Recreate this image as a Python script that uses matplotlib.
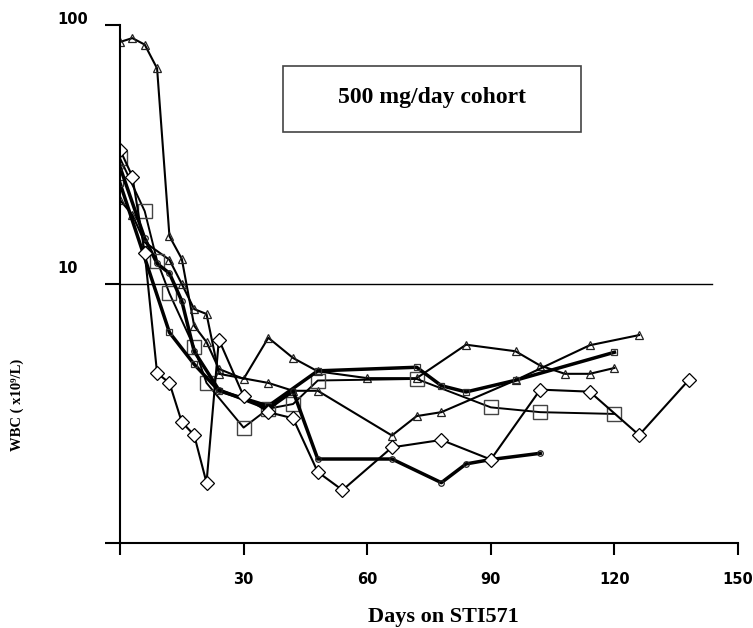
import matplotlib.pyplot as plt
import matplotlib.transforms as mtransforms
from matplotlib.patches import Rectangle

# valeurs (jours, WBC x10^9/L)
jours_tri1 = [0, 3, 6, 9, 12, 15, 18, 21, 24, 30, 36, 42, 48, 60, 72, 84, 96, 102, 108, 114, 120]
wbc_tri1 = [86, 89, 84, 68, 15.3, 12.5, 6.9, 5.97, 4.7, 4.3, 6.2, 5.18, 4.6, 4.33, 4.33, 5.83, 5.5, 4.84, 4.5, 4.5, 4.74]

jours_tri2 = [0, 3, 6, 12, 15, 18, 21, 24, 36, 42, 48, 66, 72, 78, 96, 114, 126]
wbc_tri2 = [21.1, 18.5, 14.5, 12.4, 10, 8, 7.66, 4.5, 4.15, 3.87, 3.87, 2.6, 3.09, 3.2, 4.25, 5.8, 6.35]

jours_carre = [0, 12, 18, 24, 36, 48, 72, 78, 84, 96, 120]
wbc_carre = [24.5, 6.5, 4.9, 3.87, 3.38, 4.62, 4.77, 4.05, 3.83, 4.25, 5.45]

jours_gcarre = [0, 6, 9, 12, 18, 21, 30, 36, 42, 48, 72, 90, 102, 120]
wbc_gcarre = [30.6, 19.1, 12.3, 9.2, 5.7, 4.15, 2.79, 3.3, 3.44, 4.24, 4.3, 3.34, 3.2, 3.15]

jours_rond = [0, 6, 9, 12, 15, 18, 24, 36, 42, 48, 66, 78, 84, 90, 102]
wbc_rond = [28.3, 15, 12, 11, 8.6, 5.5, 3.9, 3.3, 3.86, 2.11, 2.11, 1.71, 2.02, 2.1, 2.22]

jours_losange = [0, 3, 6, 9, 12, 15, 18, 21, 24, 30, 36, 42, 48, 54, 66, 78, 90, 102, 114, 126, 138]
wbc_losange = [33, 26, 13.2, 4.53, 4.15, 2.93, 2.61, 1.71, 6.1, 3.69, 3.2, 3.03, 1.88, 1.6, 2.34, 2.5, 2.1, 3.91, 3.84, 2.61, 4.25]

ticks_x = [0, 30, 60, 90, 120, 150]
labels_x = ['', '30', '60', '90', '120', '150']
ticks_y = [1, 10, 100]
labels_y = ['', '10', '100']

fig = plt.figure(figsize=(7.53, 6.28), dpi=100)
ax = fig.add_axes([120 / 753, 1 - 543 / 628, 618 / 753, 518 / 628])
ax.set_yscale('log')
ax.set_xlim(0, 150)
ax.set_ylim(1, 100)

# ligne de reference a 10
ax.axhline(10, xmin=0, xmax=592 / 618, color='black', lw=1.0, zorder=1)

# courbes
ax.plot(jours_tri1, wbc_tri1, color='black', lw=1.5, marker='^', ms=6,
        mfc='none', mec='#222222', mew=0.9)
ax.plot(jours_tri2, wbc_tri2, color='black', lw=1.5, marker='^', ms=6,
        mfc='none', mec='#222222', mew=0.9)
ax.plot(jours_gcarre, wbc_gcarre, color='black', lw=1.4, marker='s', ms=10,
        mfc='none', mec='#444444', mew=1.0)
ax.plot(jours_carre, wbc_carre, color='black', lw=2.5, marker='s', ms=5,
        mfc='none', mec='#333333', mew=0.9)
ax.plot(jours_rond, wbc_rond, color='black', lw=2.5, marker='o', ms=4,
        mfc='none', mec='#222222', mew=0.9)
ax.plot(jours_losange, wbc_losange, color='black', lw=1.5, marker='D', ms=7,
        mfc='white', mec='black', mew=0.9)

# axes
for cote in ['top', 'right']:
    ax.spines[cote].set_visible(False)
ax.spines['left'].set_linewidth(1.5)
ax.spines['bottom'].set_linewidth(1.5)

ax.set_xticks(ticks_x)
ax.set_xticklabels(labels_x, fontweight='bold', fontsize=10.5, family='DejaVu Sans')
ax.tick_params(axis='x', direction='out', length=8.6, width=1.5, pad=12)
ax.set_yticks(ticks_y)
ax.set_yticklabels(labels_y, fontweight='bold', fontsize=10.5, family='DejaVu Sans')
ax.yaxis.set_minor_locator(plt.NullLocator())
ax.tick_params(axis='y', which='major', direction='out', length=10.8, width=1.5, pad=34)
decalages = {'10': 6, '100': -1.2}
for lab in ax.get_yticklabels():
    d = decalages.get(lab.get_text(), 0)
    lab.set_horizontalalignment('left')
    lab.set_verticalalignment('bottom')
    lab.set_transform(lab.get_transform() +
                      mtransforms.ScaledTranslation(0, d / 72, fig.dpi_scale_trans))

# titres
fig.text(443 / 753, 1 - 617 / 628, 'Days on STI571', ha='center', va='center',
         family='Liberation Serif', fontweight='bold', fontsize=16)
fig.text(17 / 753, 1 - 405 / 628, 'WBC ( x10\u2079/L)', ha='center', va='center',
         rotation=90, family=['Liberation Serif', 'DejaVu Serif'], fontweight='bold', fontsize=10.5)

# encadre
fig.patches.append(Rectangle((283 / 753, 1 - 132 / 628), 298 / 753, 66 / 628,
                             transform=fig.transFigure, fill=False,
                             edgecolor='#444444', lw=1.2))
fig.text(432 / 753, 1 - 98 / 628, '500 mg/day cohort', ha='center', va='center',
         family='Liberation Serif', fontweight='bold', fontsize=17)

plt.savefig('out.png', dpi=100)
